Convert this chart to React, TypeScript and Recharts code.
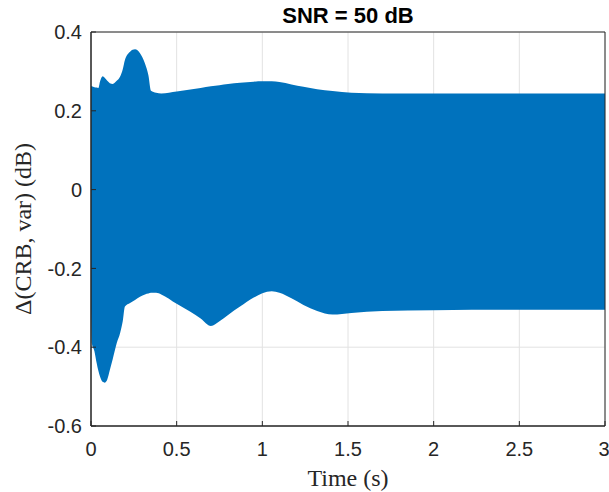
import React from 'react';
import { ComposedChart, Area, XAxis, YAxis, CartesianGrid, ReferenceArea } from 'recharts';

// time samples (s) and the upper / lower envelope of the oscillating error
const time = [
  0, 0.005, 0.02, 0.033, 0.043, 0.053, 0.068, 0.08, 0.095, 0.11, 0.127, 0.15, 0.17, 0.185, 0.198, 0.228,
  0.257, 0.286, 0.315, 0.335, 0.35, 0.38, 0.41, 0.5, 0.58, 0.64, 0.7, 0.75, 0.8, 0.87, 0.95, 1.0,
  1.055, 1.1, 1.17, 1.24, 1.32, 1.41, 1.52, 1.7, 2.0, 2.5, 3.0,
];
const upper = [
  0.263, 0.262, 0.26, 0.259, 0.258, 0.275, 0.288, 0.284, 0.276, 0.27, 0.268, 0.276, 0.287, 0.305, 0.329, 0.35,
  0.356, 0.346, 0.32, 0.29, 0.251, 0.246, 0.244, 0.249, 0.254, 0.258, 0.262, 0.265, 0.268, 0.271, 0.274, 0.275,
  0.275, 0.273, 0.267, 0.261, 0.255, 0.25, 0.246, 0.244, 0.244, 0.244, 0.244,
];
const lower = [
  -0.3, -0.39, -0.41, -0.44, -0.46, -0.475, -0.488, -0.49, -0.482, -0.458, -0.43, -0.39, -0.364, -0.335, -0.297, -0.288,
  -0.28, -0.272, -0.266, -0.264, -0.262, -0.262, -0.266, -0.29, -0.31, -0.327, -0.346, -0.334, -0.318, -0.297, -0.274, -0.263,
  -0.258, -0.262, -0.276, -0.293, -0.308, -0.317, -0.313, -0.308, -0.306, -0.305, -0.305,
];

const xTicks = [0, 0.5, 1, 1.5, 2, 2.5, 3];
const yTicks = [-0.6, -0.4, -0.2, 0, 0.2, 0.4];

const data = time.map((t, i) => ({ t, band: [lower[i], upper[i]] }));

const axisColor = '#262626';
const tickFont = { fontSize: 20, fill: axisColor, fontFamily: '"Liberation Sans", Arial, sans-serif' };
const labelFont = { fontSize: 24, fill: axisColor, fontFamily: '"Liberation Serif", "DejaVu Serif", serif' };

export default function App() {
  return (
    <div style={{ position: 'absolute', left: 0, top: 0, width: 609, height: 492, background: '#fff' }}>
      <div
        style={{
          position: 'absolute',
          left: 91,
          width: 514,
          top: 3,
          textAlign: 'center',
          fontFamily: '"Liberation Sans", Arial, sans-serif',
          fontWeight: 'bold',
          fontSize: 22,
          color: '#000',
          lineHeight: '26px',
        }}
      >
        SNR = 50 dB
      </div>
      <ComposedChart width={609} height={492} data={data} margin={{ top: 32, right: 4, bottom: 4, left: 0 }}>
        <CartesianGrid stroke="#e2e2e2" strokeWidth={1} />
        <XAxis
          dataKey="t"
          type="number"
          domain={[0, 3]}
          ticks={xTicks}
          height={62}
          stroke={axisColor}
          tickSize={-5}
          tickMargin={21}
          tick={tickFont}
          label={{ value: 'Time (s)', position: 'insideBottom', offset: 2, style: labelFont }}
        />
        <XAxis
          xAxisId="top"
          orientation="top"
          type="number"
          domain={[0, 3]}
          ticks={xTicks}
          height={0}
          stroke={axisColor}
          tickSize={-5}
          tickFormatter={() => ''}
        />
        <YAxis
          type="number"
          domain={[-0.6, 0.4]}
          ticks={yTicks}
          width={91}
          stroke={axisColor}
          tickSize={-5}
          tickMargin={14}
          tick={tickFont}
          tickFormatter={(v: number) => String(v)}
          label={{
            value: '\u0394(CRB, var) (dB)',
            angle: -90,
            position: 'insideLeft',
            offset: 22,
            style: { ...labelFont, textAnchor: 'middle' },
          }}
        />
        <YAxis
          yAxisId="right"
          orientation="right"
          type="number"
          domain={[-0.6, 0.4]}
          ticks={yTicks}
          width={0}
          stroke={axisColor}
          tickSize={-5}
          tickFormatter={() => ''}
        />
        <Area
          dataKey="band"
          type="monotone"
          fill="#0072BD"
          fillOpacity={1}
          stroke="none"
          isAnimationActive={false}
        />
        {/* box round the axes, as in the original figure */}
        <ReferenceArea x1={0} x2={3} y1={-0.6} y2={0.4} fill="none" stroke={axisColor} strokeWidth={1} />
      </ComposedChart>
    </div>
  );
}
